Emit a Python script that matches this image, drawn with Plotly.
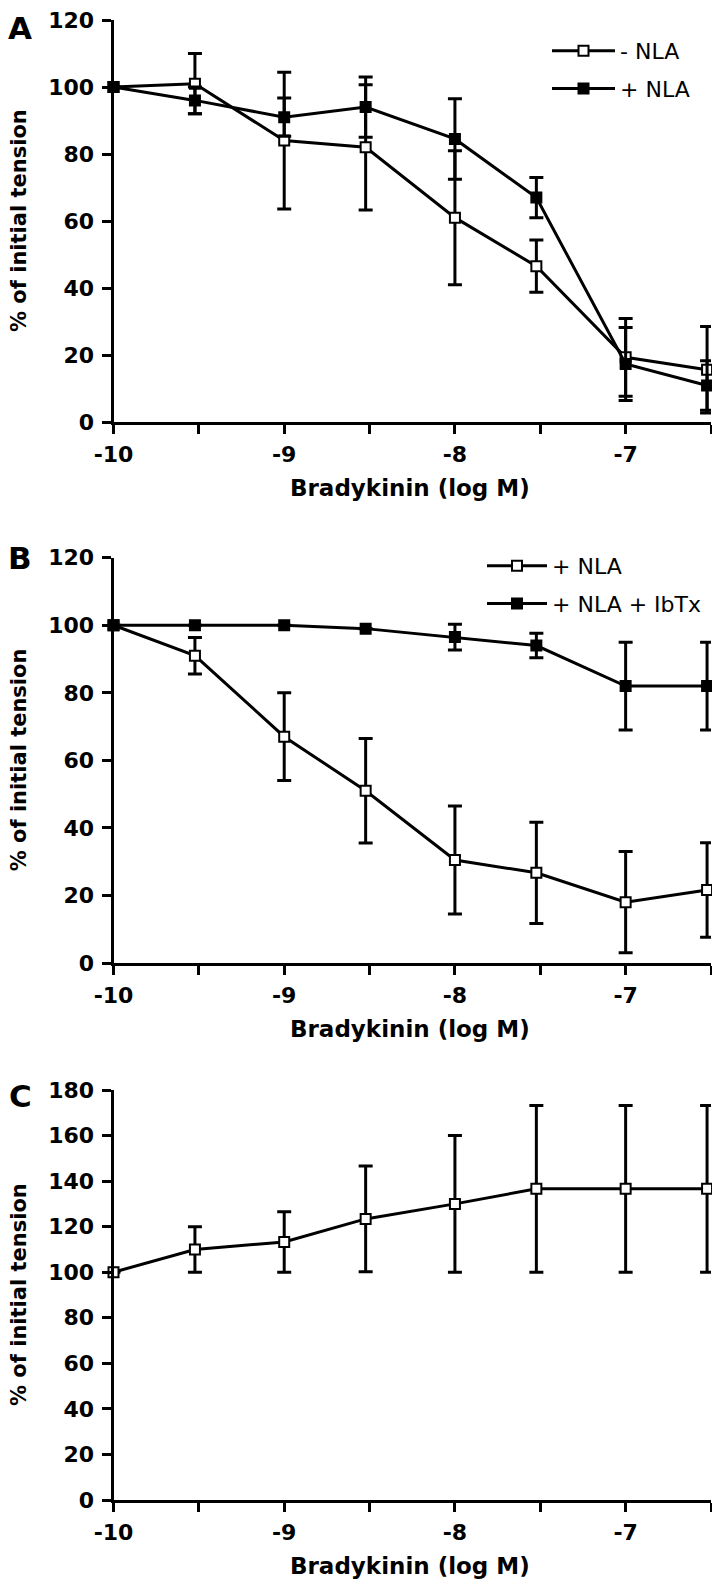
import plotly.graph_objects as go

# log concentrations of bradykinin (GraphPad style: 1e-10, 3e-10, ...)
log_conc = [-10, -9.523, -9, -8.523, -8, -7.523, -7, -6.523]

# Panel A
a_minus_nla = [100, 101, 84, 82, 61, 46.5, 19.3, 15.6]
a_minus_nla_err = [0, 9, 20.4, 18.7, 20, 7.8, 11.6, 12.9]
a_plus_nla = [100, 96, 91, 94, 84.5, 67, 17.3, 10.9]
a_plus_nla_err = [0, 4, 5.7, 9, 12, 6, 10.9, 7.4]

# Panel B
b_nla = [100, 91, 67, 51, 30.5, 26.7, 18, 21.6]
b_nla_err = [0, 5.4, 13, 15.5, 16, 15, 15, 14]
b_nla_ibtx = [100, 100, 100, 99, 96.5, 94, 82, 82]
b_nla_ibtx_err = [0, 0, 0, 0, 3.8, 3.6, 13, 13]

# Panel C
c_vals = [100, 110, 113.3, 123.4, 130, 136.6, 136.6, 136.6]
c_err = [0, 10, 13.3, 23.2, 30, 36.6, 36.6, 36.6]

x_tickvals = [-10, -9.5, -9, -8.5, -8, -7.5, -7, -6.5]
x_ticktext = ["-10", "", "-9", "", "-8", "", "-7", ""]

# page has an 8px body margin, so the figure is a bit smaller and shifted
OFF = 8
W, H = 720 - OFF, 1581 - OFF
FONT = "DejaVu Sans"


def px(p):
    return (p - OFF) / W


def py(p):
    return 1 - (p - OFF) / H


def series(y, err, name, filled, xa, ya, legend=None, group=None):
    return go.Scatter(
        x=log_conc, y=y, name=name, mode="lines+markers",
        xaxis=xa, yaxis=ya,
        line=dict(color="black", width=3),
        marker=dict(symbol="square", size=10,
                    color="black" if filled else "white",
                    line=dict(color="black", width=2)),
        error_y=dict(type="data", array=err, visible=True,
                     color="black", thickness=3, width=7),
        cliponaxis=False,
        showlegend=legend is not None,
        legend=legend or "legend",
        legendgroup=group,
    )


fig = go.Figure()
fig.add_trace(series(a_minus_nla, a_minus_nla_err, "- NLA", False, "x", "y", "legend", "a1"))
fig.add_trace(series(a_plus_nla, a_plus_nla_err, "+ NLA", True, "x", "y", "legend", "a2"))
fig.add_trace(series(b_nla, b_nla_err, "+ NLA", False, "x2", "y2", "legend2", "b1"))
fig.add_trace(series(b_nla_ibtx, b_nla_ibtx_err, "+ NLA + IbTx", True, "x2", "y2", "legend2", "b2"))
fig.add_trace(series(c_vals, c_err, "C", False, "x3", "y3"))

xdom = [px(113.5), px(711)]
tickfont = dict(family=FONT, size=22, color="black", weight="bold")


def xaxis(anchor):
    return dict(domain=xdom, range=[-10, -6.5], anchor=anchor, automargin=False,
                tickvals=x_tickvals, ticktext=x_ticktext,
                ticks="outside", ticklen=9, tickwidth=3, tickcolor="black",
                showline=True, linewidth=3, linecolor="black",
                showgrid=False, zeroline=False, tickfont=tickfont,
                ticklabelstandoff=2, ticklabeloverflow="allow")


def yaxis(anchor, top, bottom, ymax):
    return dict(domain=[py(bottom), py(top)], range=[0, ymax], anchor=anchor,
                automargin=False, tickvals=list(range(0, ymax + 1, 20)),
                ticks="outside", ticklen=9, tickwidth=3, tickcolor="black",
                showline=True, linewidth=3, linecolor="black",
                showgrid=False, zeroline=False, tickfont=tickfont,
                ticklabelstandoff=3, ticklabeloverflow="allow")


annotations = []
panels = [("A", 20, 422, 28), ("B", 557.7, 963, 558), ("C", 1090, 1500, 1096)]
for letter, top, bottom, letter_y in panels:
    annotations.append(dict(text=letter, xref="paper", yref="paper",
                            x=px(20), y=py(letter_y), showarrow=False,
                            xanchor="center", yanchor="middle",
                            font=dict(family=FONT, size=31, color="black", weight="bold")))
    annotations.append(dict(text="Bradykinin (log M)", xref="paper", yref="paper",
                            x=px(410), y=py(bottom + 66), showarrow=False,
                            xanchor="center", yanchor="middle",
                            font=dict(family=FONT, size=23, color="black", weight="bold")))
    annotations.append(dict(text="% of initial tension", xref="paper", yref="paper",
                            x=px(19), y=py((top + bottom) / 2), showarrow=False,
                            textangle=-90, xanchor="center", yanchor="middle",
                            font=dict(family=FONT, size=21, color="black", weight="bold")))

legend_font = dict(family=FONT, size=22, color="black")

fig.update_layout(
    width=W, height=H, autosize=False,
    margin=dict(l=0, r=0, t=0, b=0),
    paper_bgcolor="white", plot_bgcolor="white",
    xaxis=xaxis("y"), yaxis=yaxis("x", 20, 422, 120),
    xaxis2=xaxis("y2"), yaxis2=yaxis("x2", 557.7, 963, 120),
    xaxis3=xaxis("y3"), yaxis3=yaxis("x3", 1090, 1500, 180),
    legend=dict(x=px(547), y=py(30), xanchor="left", yanchor="top",
                font=legend_font, itemwidth=63, tracegroupgap=6,
                bgcolor="rgba(0,0,0,0)"),
    legend2=dict(x=px(482), y=py(545), xanchor="left", yanchor="top",
                 font=legend_font, itemwidth=60, tracegroupgap=6,
                 bgcolor="rgba(0,0,0,0)"),
    annotations=annotations,
)

fig.write_html("out.html")
